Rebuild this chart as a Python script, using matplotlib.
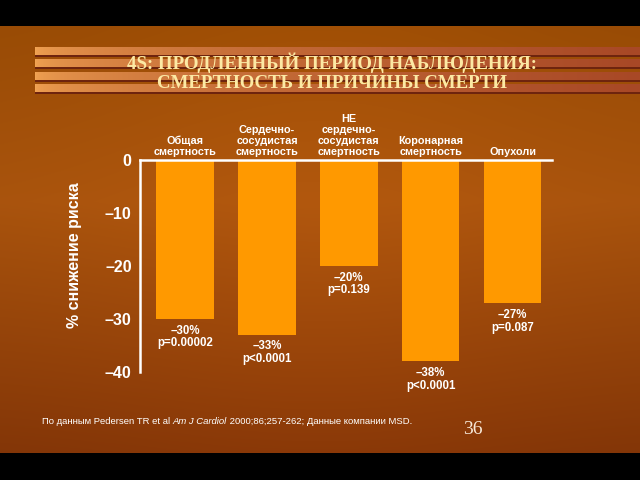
import matplotlib.pyplot as plt
import numpy as np

# Chart data
categories = ['Общая\nсмертность', 'Сердечно-\nсосудистая\nсмертность',
              'НЕ\nсердечно-\nсосудистая\nсмертность', 'Коронарная\nсмертность', 'Опухоли']
reduction = [-30, -33, -20, -38, -27]
p_values = ['p=0.00002', 'p<0.0001', 'p=0.139', 'p<0.0001', 'p=0.087']
y_ticks = [0, -10, -20, -30, -40]
y_tick_labels = ['0', '–10', '–20', '–30', '–40']

plt.rcParams['font.family'] = ['Liberation Sans', 'DejaVu Sans']

fig = plt.figure(figsize=(6.4, 4.8), dpi=100)

# background: orange-brown gradient, black bars top/bottom, striped title band
H, W = 480, 640
yy = np.linspace(0, 1, H)[:, None, None]
xx = np.linspace(0, 1, W)[None, :, None]
top_c = np.array([158, 78, 4])
mid_c = np.array([178, 88, 14])
bot_c = np.array([140, 58, 8])
bg = np.where(yy < 0.42, top_c + (mid_c - top_c) * (yy / 0.42),
              mid_c + (bot_c - mid_c) * ((yy - 0.42) / 0.5))
bg = bg * np.ones((H, W, 1))
bg = bg * (0.94 + 0.06 * np.exp(-((xx - 0.5) ** 2) / 0.15))

light = np.array([242, 164, 83])
red = np.array([168, 72, 38])
t = np.clip((np.arange(W) - 35) / 605.0, 0, 1)[:, None]
stripe_col = light + (red - light) * np.sqrt(t)
for top in [47, 59, 72, 84]:
    bg[top:top + 8, 35:] = stripe_col[35:]
    bg[top + 8:top + 10, 35:] = [110, 36, 14]
bg[:26] = 0
bg[453:] = 0

bg_ax = fig.add_axes([0, 0, 1, 1])
bg_ax.imshow(np.clip(bg, 0, 255).astype(np.uint8), aspect='auto', extent=(0, W, H, 0))
bg_ax.axis('off')

# main chart
ax = fig.add_axes([140 / 640, 1 - 372 / 480, 412 / 640, 212 / 480])
ax.patch.set_alpha(0)
x = np.arange(len(categories))
ax.bar(x, reduction, width=0.7, color='#FF9900')
ax.set_xlim(-0.55, 4.48)
ax.set_ylim(-40, 0)

for s in ['right', 'bottom']:
    ax.spines[s].set_visible(False)
for s in ['top', 'left']:
    ax.spines[s].set_color('white')
    ax.spines[s].set_linewidth(1.8)

ax.set_xticks([])
ax.set_yticks(y_ticks)
ax.set_yticklabels(y_tick_labels, fontsize=11.5, fontweight='bold', color='white')
ax.tick_params(axis='y', length=0, pad=6)

for xi, cat in zip(x, categories):
    ax.annotate(cat, (xi, 0), xytext=(0, 2), textcoords='offset points',
                ha='center', va='bottom', fontsize=7.8, fontweight='bold',
                color='white', linespacing=1.12)

for xi, v, p in zip(x, reduction, p_values):
    ax.annotate(f'–{abs(v)}%\n{p}', (xi, v), xytext=(0, -4), textcoords='offset points',
                ha='center', va='top', fontsize=8.3, fontweight='bold',
                color='white', linespacing=1.1)

fig.text(75 / 640, 1 - 255 / 480, '% снижение риска', rotation=90, ha='center', va='center',
         fontsize=11.5, fontweight='bold', color='white')

# title
fig.text(332 / 640, 1 - 72 / 480, '4S: ПРОДЛЕННЫЙ ПЕРИОД НАБЛЮДЕНИЯ:\nСМЕРТНОСТЬ И ПРИЧИНЫ СМЕРТИ',
         ha='center', va='center', fontsize=13.6, fontweight='bold', color='#FCE9A4',
         family='Liberation Serif', linespacing=1.12)

# footnote in pieces (italic journal name)
fig.canvas.draw()
renderer = fig.canvas.get_renderer()
xpos = 42
for txt, style in [('По данным Pedersen TR et al ', 'normal'), ('Am J Cardiol', 'italic'),
                   (' 2000;86;257-262; Данные компании MSD.', 'normal')]:
    tt = fig.text(xpos / 640, 1 - 422 / 480, txt, ha='left', va='center', fontsize=6.8,
                  style=style, color='white')
    xpos += tt.get_window_extent(renderer).width

fig.text(473 / 640, 1 - 430 / 480, '36', ha='center', va='center', fontsize=14,
         family='Liberation Serif', color='#F7E8D8')

fig.savefig('out.png', dpi=100)
